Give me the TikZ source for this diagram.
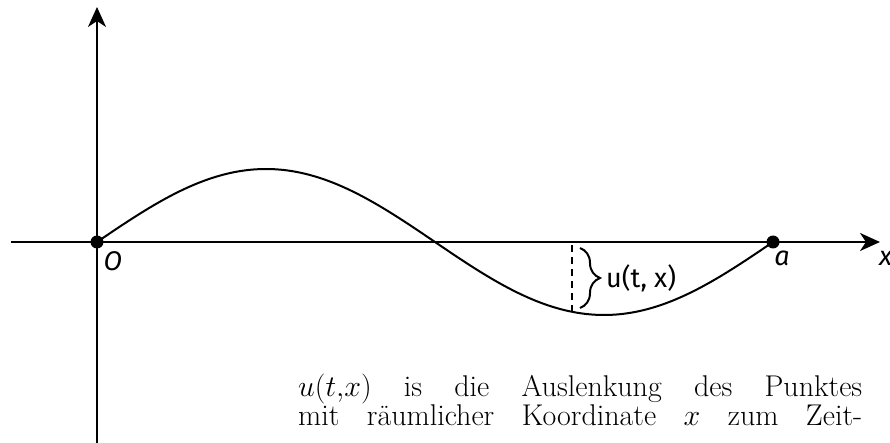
\documentclass[tikz,border=0pt]{standalone}
\usepackage{graphicx}
\usepackage{fontspec}
\newfontfamily\lblfont{Fira Sans}
\usetikzlibrary{arrows.meta,decorations.pathreplacing}
\newcommand{\bodyline}[1]{\scalebox{1.736}{\fontsize{17.28}{20}\selectfont\makebox[324.9pt][s]{#1}}}
\begin{document}
\begin{tikzpicture}[x=1pt,y=-1pt,
  axis/.style={line width=2.4pt,-{Stealth[length=20pt,width=18pt,inset=6pt]}},
  wave/.style={line width=2pt},
  dotnode/.style={circle,fill=black,inner sep=0pt,minimum size=13pt},
  lbl/.style={font=\lblfont\itshape\fontsize{27}{30}\selectfont,inner sep=0pt},
  lblup/.style={font=\lblfont\fontsize{27}{30}\selectfont,inner sep=0pt},
  body/.style={inner sep=0pt,anchor=base west}]
\useasboundingbox (0,0) rectangle (890,443);
\clip (0,0) rectangle (890,443);
\coordinate (xs) at (11,242);
\coordinate (xe) at (880,242);
\coordinate (ys) at (97,450);
\coordinate (ye) at (97,7);
\draw[axis] (xs) -- (xe);
\draw[axis] (ys) -- (ye);
\draw[wave] plot[domain=97:773,samples=160,smooth] (\x,{242-73*sin((\x-97)/676*360)});
\node[dotnode] (O) at (97,242) {};
\node[dotnode] (A) at (773,242) {};
\node[lbl] (Olbl) at (113,261) {O};
\node[lbl] (Albl) at (782,258) {a};
\node[lbl,anchor=west] (xlbl) at (879,258) {x};
\coordinate (d1) at (572,245);
\coordinate (d2) at (572,311);
\draw[line width=1.5pt,dash pattern=on 7pt off 5pt] (d1) -- (d2);
\coordinate (b1) at (580,248);
\coordinate (b2) at (580,308);
\draw[line width=2pt,decorate,decoration={brace,amplitude=20pt}] (b1) -- (b2);
\node[lblup,anchor=west] (ulbl) at (606,278) {u(t, x)};
\node[body] (l1) at (298,396) {\bodyline{$u(t{,}x)$ is die Auslenkung des Punktes}};
\node[body] (l2) at (298,425) {\bodyline{mit räumlicher Koordinate $x$ zum Zeit-}};
\end{tikzpicture}
\end{document}
